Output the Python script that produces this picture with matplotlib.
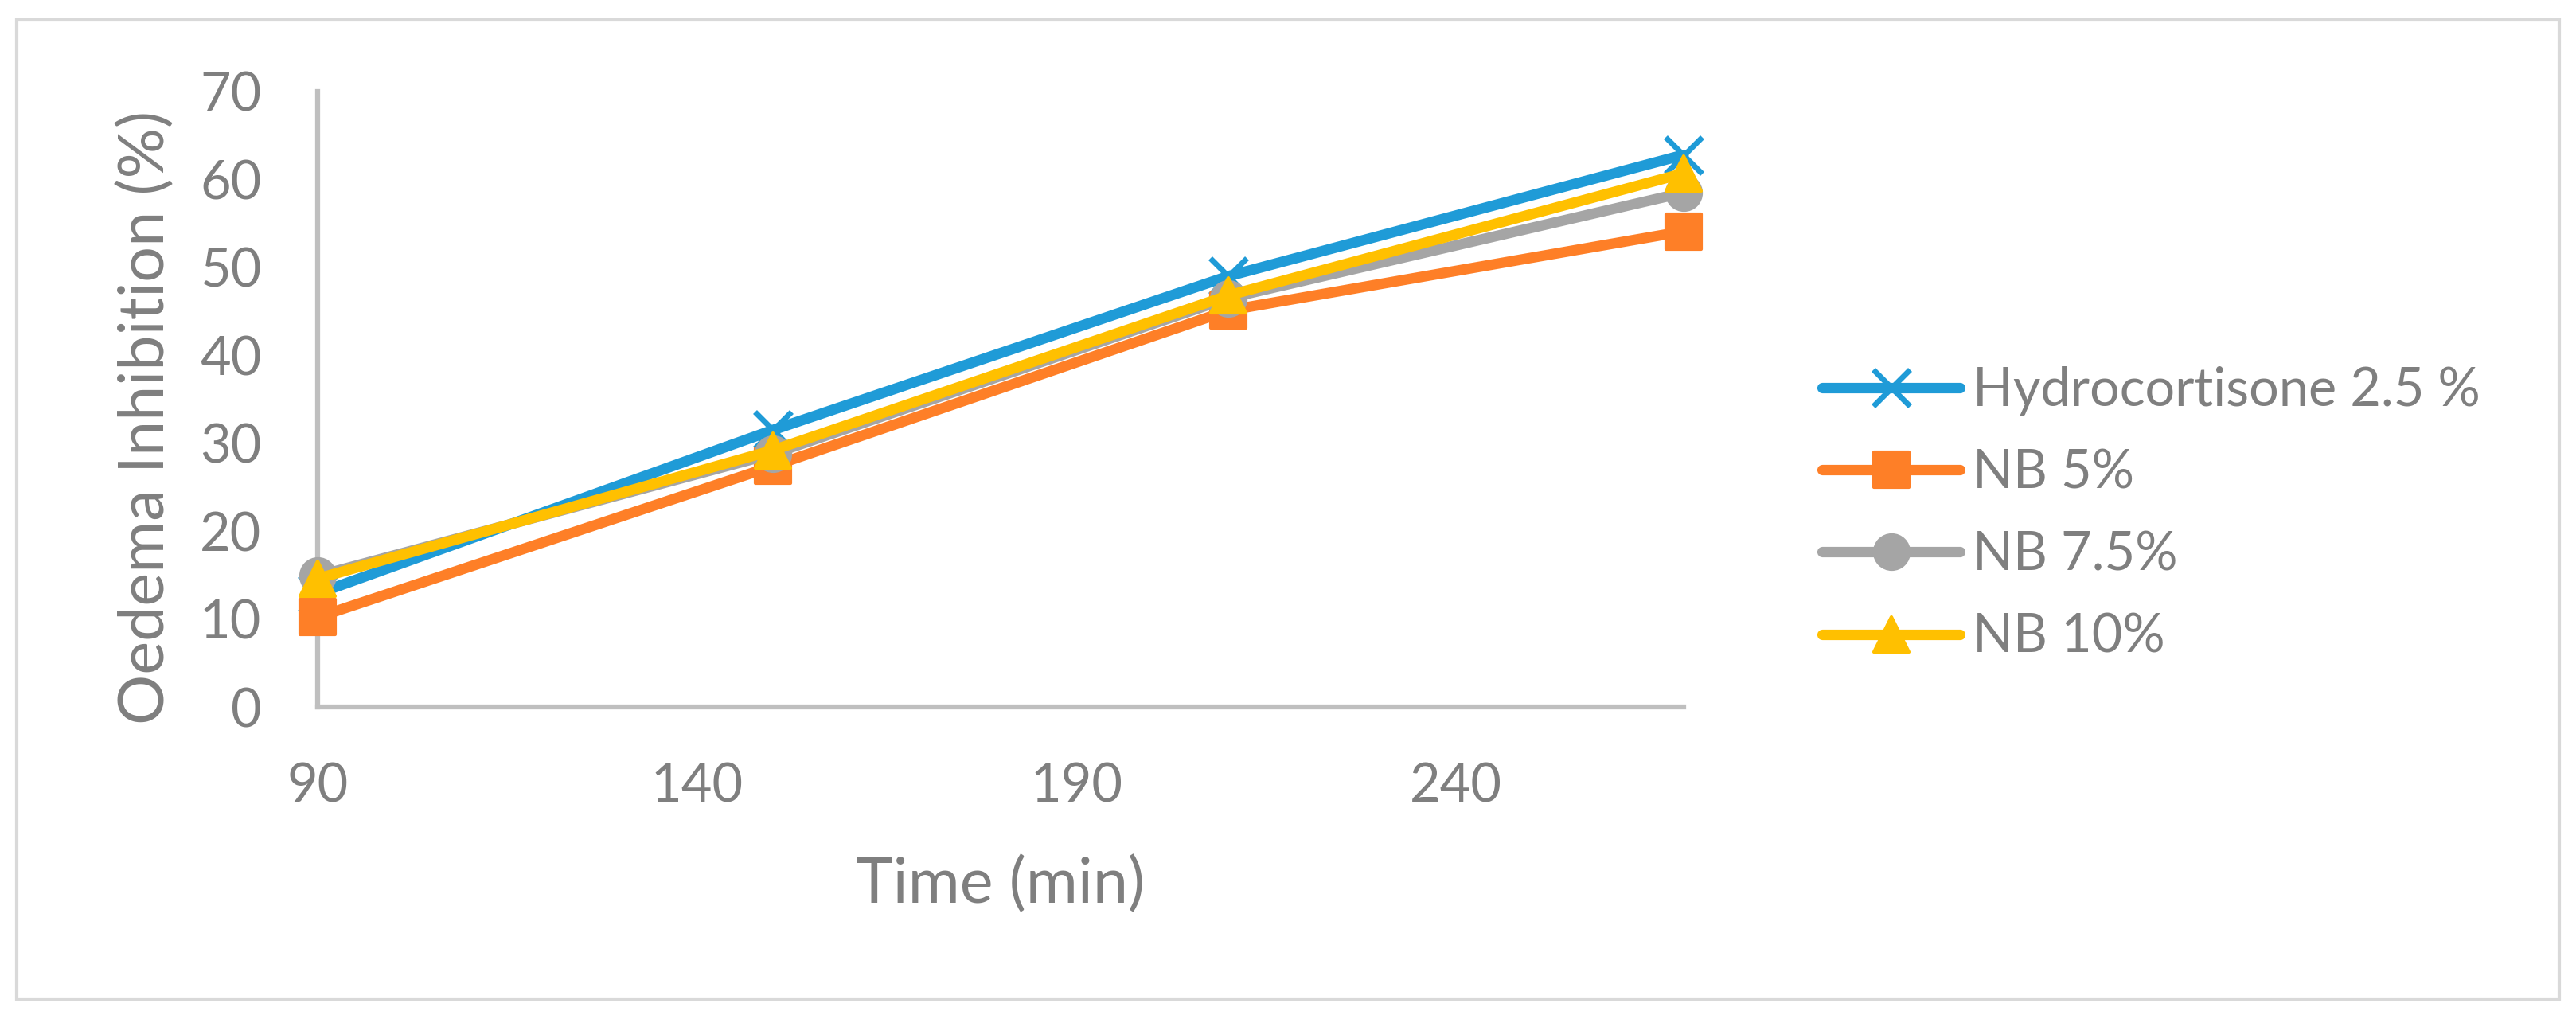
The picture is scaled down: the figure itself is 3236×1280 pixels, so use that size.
import matplotlib
matplotlib.use("Agg")
import matplotlib.pyplot as plt
from matplotlib.patches import Rectangle
from matplotlib.markers import MarkerStyle

time_min = [90, 150, 210, 270]
series_names = ["Hydrocortisone 2.5 %", "NB 5%", "NB 7.5%", "NB 10%"]
hydrocortisone = [12.9, 31.5, 49.0, 62.8]
nb5 = [10.2, 27.4, 45.1, 54.1]
nb75 = [14.9, 28.8, 46.5, 58.5]
nb10 = [14.6, 29.2, 46.8, 60.7]
x_ticks = [90, 140, 190, 240]
y_ticks = [0, 10, 20, 30, 40, 50, 60, 70]

colors = ["#1f9bd7", "#fe7f27", "#a5a5a5", "#ffc000"]
markers = ["x", "s", "o", "^"]
text_color = "#7f7f7f"

plt.rcParams['font.family'] = ['Lato', 'DejaVu Sans']

W, H = 3236, 1280
fig = plt.figure(figsize=(W / 100, H / 100), dpi=100)
ax = fig.add_axes([399 / W, 1 - 888 / H, (2115 - 399) / W, (888 - 115) / H])

data = [hydrocortisone, nb5, nb75, nb10]
for vals, name, c, m in zip(data, series_names, colors, markers):
    if m == "x":
        ax.plot(time_min, vals, color=c, lw=9.5, marker=m, markersize=33, mew=5,
                label=name, solid_capstyle='round', solid_joinstyle='round',
                clip_on=False, zorder=3)
    else:
        ax.plot(time_min, vals, color=c, lw=9.5,
                marker=MarkerStyle(m, joinstyle='round'), markersize=31, mew=3,
                mec=c, mfc=c, label=name, solid_capstyle='round',
                solid_joinstyle='round', clip_on=False, zorder=3)

ax.set_xlim(90, 270)
ax.set_ylim(0, 70)
ax.set_xticks(x_ticks)
ax.set_yticks(y_ticks)
ax.tick_params(axis='both', length=0, labelsize=48, colors=text_color)
ax.tick_params(axis='y', pad=51)
ax.tick_params(axis='x', pad=50)
for s in ['top', 'right']:
    ax.spines[s].set_visible(False)
for s in ['left', 'bottom']:
    ax.spines[s].set_color('#bfbfbf')
    ax.spines[s].set_linewidth(4.5)

ax.set_xlabel("Time (min)", fontsize=57, color=text_color, labelpad=40)
ax.set_ylabel("Oedema Inhibition (%)", fontsize=57, color=text_color, labelpad=22,
              y=0.47)

leg = fig.legend(loc='center left', bbox_to_anchor=(2289 / W, 1 - 646 / H),
                 frameon=False, fontsize=48, handlelength=2.6, handletextpad=0.24,
                 labelspacing=0.62, borderpad=0, borderaxespad=0)
for t in leg.get_texts():
    t.set_color(text_color)

fig.patches.append(Rectangle((21 / W, 25 / H), (3215 - 21) / W, (1255 - 25) / H,
                             transform=fig.transFigure, fill=False,
                             edgecolor='#d9d9d9', lw=3))

fig.savefig("out.png", dpi=100)
